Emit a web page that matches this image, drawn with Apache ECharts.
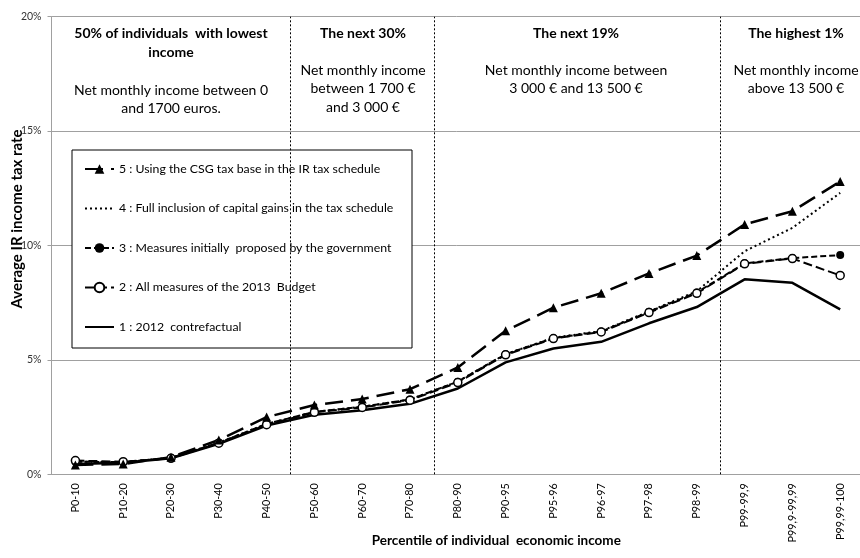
<!DOCTYPE html>
<html><head><meta charset="utf-8">
<script src="https://cdn.jsdelivr.net/npm/echarts@6/dist/echarts.min.js"></script>
<style>html,body{margin:0;padding:0;background:#fff}#c{width:860px;height:558px}</style>
</head><body><div id="c"></div>
<script>
const categories = ['P0-10','P10-20','P20-30','P30-40','P40-50','P50-60','P60-70','P70-80','P80-90','P90-95','P95-96','P96-97','P97-98','P98-99','P99-99,9','P99,9-99,99','P99,99-100'];
const s1 = [0.45,0.5,0.7,1.33,2.13,2.6,2.8,3.08,3.75,4.89,5.5,5.79,6.6,7.31,8.52,8.37,7.21];
const s2 = [0.6,0.55,0.7,1.36,2.17,2.71,2.92,3.24,4.01,5.22,5.93,6.22,7.07,7.91,9.2,9.43,8.69];
const s3 = [0.55,0.53,0.72,1.38,2.2,2.73,2.95,3.27,4.05,5.25,5.95,6.24,7.1,7.95,9.22,9.45,9.58];
const s4 = [0.55,0.53,0.72,1.38,2.2,2.73,2.95,3.27,4.05,5.25,5.97,6.26,7.12,8.0,9.75,10.77,12.3];
const s5 = [0.41,0.45,0.75,1.5,2.5,3.03,3.29,3.72,4.67,6.27,7.28,7.91,8.78,9.56,10.92,11.5,12.8];
const names = ['5 : Using the CSG tax base in the IR tax schedule','4 : Full inclusion of capital gains in the tax schedule','3 : Measures initially  proposed by the government','2 : All measures of the 2013  Budget','1 : 2012  contrefactual'];
const yTicks = [0,5,10,15,20];
const boundaries = [5,8,14];
const groupTitles = ['50% of individuals  with lowest\nincome','The next 30%','The next 19%','The highest 1%'];
const groupTexts = ['Net monthly income between 0\nand 1700 euros.','Net monthly income\nbetween 1 700 €\nand 3 000 €','Net monthly income between\n3 000 € and 13 500 €','Net monthly income\nabove 13 500 €'];
const groupCenters = [171, 363, 576, 796];

const F = 'Lato, "Open Sans", sans-serif';
const chart = echarts.init(document.getElementById('c'));
const gTop = 16.7, gLeft = 51.5, gW = 812.6, gH = 457.6;

const graphics = [{
  type:'rect', z:3, silent:true,
  shape:{x:72,y:150,width:340,height:198},
  style:{fill:'#fff',stroke:'#000',lineWidth:1}
}];
groupTitles.forEach((t,i)=>{
  graphics.push({type:'text', z:3, x:groupCenters[i], y:24,
    style:{text:t, font:'bold 14px '+F, fill:'#000', align:'center', verticalAlign:'top', lineHeight:19}});
  graphics.push({type:'text', z:3, x:groupCenters[i], y: i===0?81:61,
    style:{text:groupTexts[i], font:'14px '+F, fill:'#000', align:'center', verticalAlign:'top', lineHeight:18.5}});
});

function lineSeries(name, data, opts){
  return Object.assign({
    name, type:'line', data, xAxisIndex:0, yAxisIndex:0,
    color:'#000', animation:false, z:2,
    lineStyle:{color:'#000', width:2},
  }, opts);
}

const noSymbol = {opacity:0};
chart.setOption({
  backgroundColor:'#fff',
  animation:false,
  grid:{left:gLeft, top:gTop, width:gW, height:gH, containLabel:false, outerBoundsMode:'none'},
  legend:{
    data:[
      {name:names[0]},
      {name:names[1], itemStyle:noSymbol},
      {name:names[2]},
      {name:names[3]},
      {name:names[4], itemStyle:noSymbol}
    ],
    orient:'vertical', left:84, top:163, padding:0,
    itemWidth:29, itemHeight:12, itemGap:27.5, z:5,
    textStyle:{fontFamily:F, fontSize:12.3, color:'#000'}
  },
  xAxis:[{
    type:'category', data:categories, boundaryGap:true,
    axisLine:{lineStyle:{color:'#a0a0a0', width:1}},
    axisTick:{inside:true, length:4, lineStyle:{color:'#a0a0a0'}},
    axisLabel:{rotate:90, interval:0, margin:9, fontFamily:F, fontSize:10.8, color:'#000'},
    name:'Percentile of individual  economic income', nameLocation:'middle', nameGap:59, nameMoveOverlap:false,
    nameTextStyle:{fontFamily:F, fontSize:13.5, fontWeight:'bold', color:'#000', padding:[0,0,0,77]}
  },{
    type:'value', show:false, min:0, max:categories.length
  }],
  yAxis:{
    type:'value', min:0, max:20, interval:5,
    axisLine:{show:true, lineStyle:{color:'#a0a0a0'}},
    axisTick:{show:true, length:4, lineStyle:{color:'#a0a0a0'}},
    axisLabel:{formatter:'{value}%', margin:10, fontFamily:F, fontSize:10.5, color:'#333'},
    splitLine:{lineStyle:{color:'#a0a0a0', width:1}},
    name:'Average IR income tax rate', nameLocation:'middle', nameGap:27, nameMoveOverlap:false,
    nameTextStyle:{fontFamily:F, fontSize:15, fontWeight:'bold', color:'#000', padding:[0,0,0,53]}
  },
  series:[
    lineSeries(names[4], s1, {symbol:'none', lineStyle:{color:'#000', width:2.5}}),
    lineSeries(names[1], s4, {symbol:'none', lineStyle:{color:'#000', width:2, type:[2,3]}}),
    lineSeries(names[2], s3, {symbol:'circle', symbolSize:8, itemStyle:{color:'#000'}, lineStyle:{color:'#000', width:2, type:[6,3]}}),
    lineSeries(names[3], s2, {symbol:'circle', symbolSize:8, itemStyle:{color:'#fff', borderColor:'#000', borderWidth:1.5}, lineStyle:{color:'#000', width:2, type:[9,4]}}),
    lineSeries(names[0], s5, {symbol:'triangle', symbolSize:9, itemStyle:{color:'#000'}, lineStyle:{color:'#000', width:2.5, type:[18,8]}}),
    {
      name:'boundaries', type:'line', xAxisIndex:1, yAxisIndex:0, data:[], silent:true, z:1,
      markLine:{symbol:'none', silent:true, label:{show:false},
        lineStyle:{color:'#000', width:1, type:[2,2]},
        data: boundaries.map(b=>({xAxis:b}))}
    }
  ],
  graphic: graphics
});
</script></body></html>
